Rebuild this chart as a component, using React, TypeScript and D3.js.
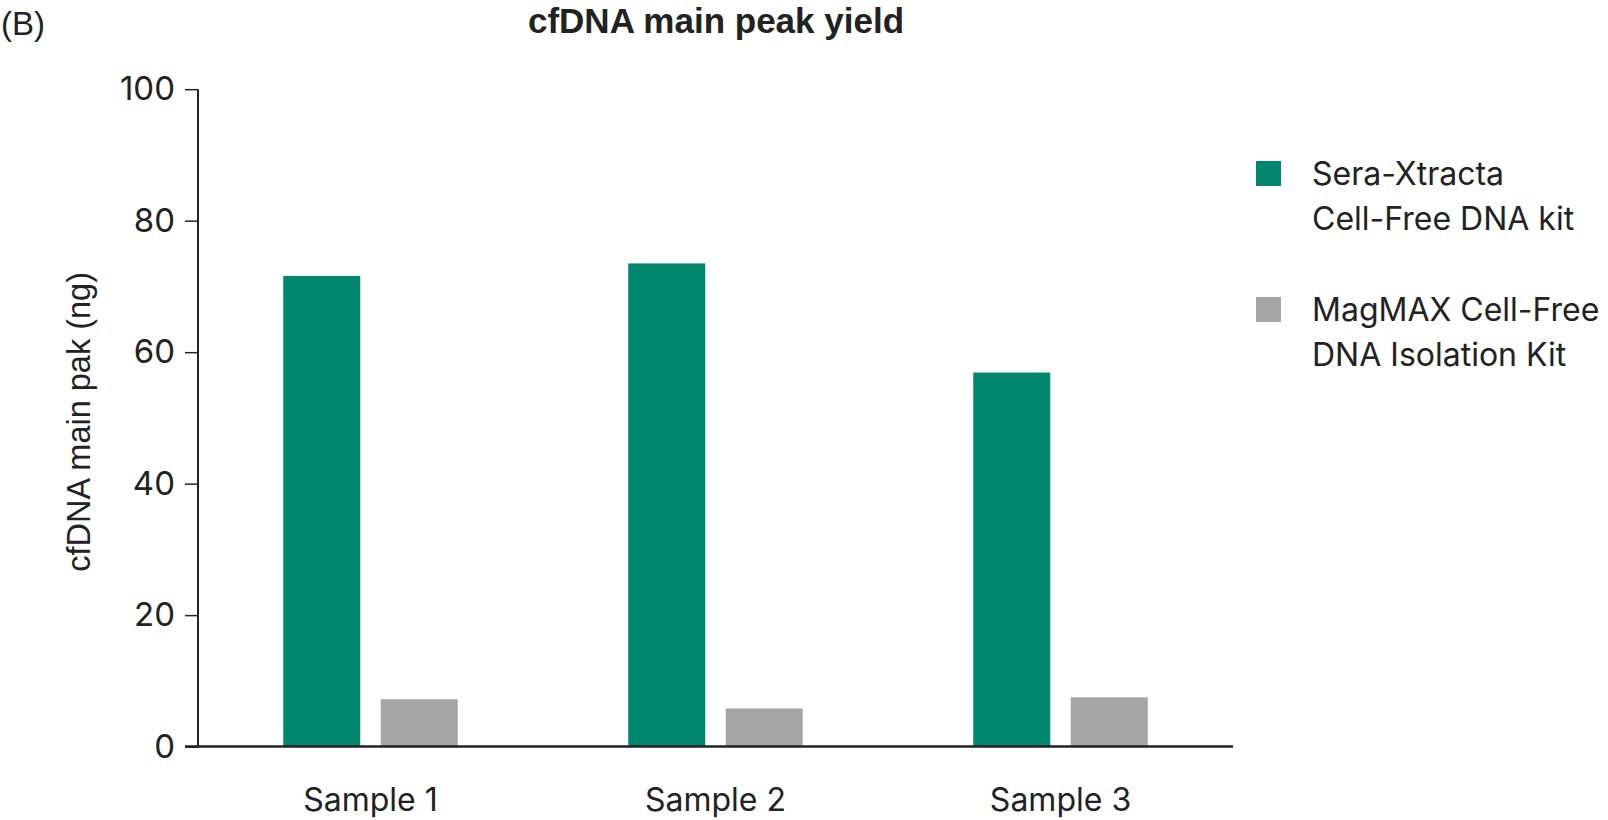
import React, { useEffect, useRef } from "react";
import * as d3 from "d3";

const samples = ["Sample 1", "Sample 2", "Sample 3"];
const kits = ["Sera-Xtracta Cell-Free DNA kit", "MagMAX Cell-Free DNA Isolation Kit"];
const seraValues = [71.6, 73.5, 56.9];
const magmaxValues = [7.2, 5.8, 7.5];
const yTicks = [0, 20, 40, 60, 80, 100];
const legendLines = [["Sera-Xtracta", "Cell-Free DNA kit"], ["MagMAX Cell-Free", "DNA Isolation Kit"]];
const colors = ["#00876D", "#A5A5A6"];

const W = 1608;
const H = 820;
const FONT = "Inter, 'Liberation Sans', Arial, sans-serif";
const ARIAL = "'Liberation Sans', Arial, sans-serif";

export default function App() {
  const ref = useRef<SVGSVGElement>(null);
  useEffect(() => {
    const svg = d3.select(ref.current);
    svg.selectAll("*").remove();
    const left = 198, right = 1233, top = 89.2, bottom = 746.6;
    const x = d3.scaleBand<string>().domain(samples).range([left, right]).padding(0);
    const step = x.step();
    const groupW = 174.5;
    const xs = d3.scaleBand<string>().domain(kits)
      .range([(step - groupW) / 2, (step + groupW) / 2]).paddingInner(0.21).paddingOuter(0);
    const y = d3.scaleLinear().domain([0, 100]).range([bottom, top]);

    svg.append("text").attr("x", 1).attr("y", 35).attr("font-family", ARIAL)
      .attr("font-size", 33).attr("fill", "#222").text("(B)");
    svg.append("text").attr("x", 716).attr("y", 33).attr("text-anchor", "middle")
      .attr("font-family", ARIAL)
      .attr("font-weight", "bold").attr("font-size", 35).attr("fill", "#222")
      .text("cfDNA main peak yield");

    const series = [seraValues, magmaxValues];
    series.forEach((vals, k) => {
      svg.append("g").selectAll("rect").data(samples).join("rect")
        .attr("x", (s) => (x(s) as number) + (xs(kits[k]) as number))
        .attr("width", xs.bandwidth())
        .attr("y", (s, i) => y(vals[i]))
        .attr("height", (s, i) => bottom - y(vals[i]))
        .attr("fill", colors[k]);
    });

    const yAxis = svg.append("g").attr("transform", `translate(${left},0)`)
      .call(d3.axisLeft(y).tickValues(yTicks).tickSize(13).tickPadding(10).tickFormat(d3.format("d")));
    yAxis.select(".domain").attr("stroke", "#222").attr("stroke-width", 2).attr("d", `M0,${top}V${bottom}`);
    yAxis.selectAll(".tick line").attr("stroke", "#222").attr("stroke-width", 1.5);
    yAxis.selectAll(".tick text").attr("font-family", FONT).attr("font-size", 33).attr("fill", "#222");

    svg.append("line").attr("x1", left - 13).attr("x2", right).attr("y1", bottom).attr("y2", bottom)
      .attr("stroke", "#222").attr("stroke-width", 2.5);

    const xAxis = svg.append("g").attr("transform", `translate(0,${bottom})`)
      .call(d3.axisBottom(x).tickSize(0).tickPadding(42));
    xAxis.select(".domain").remove();
    xAxis.selectAll(".tick text").attr("font-family", FONT).attr("font-size", 32).attr("fill", "#222");

    svg.append("text").attr("transform", `translate(90,${(top + bottom) / 2 + 4}) rotate(-90)`)
      .attr("text-anchor", "middle").attr("font-family", ARIAL).attr("font-size", 32.5).attr("fill", "#222")
      .text("cfDNA main pak (ng)");

    const legY = [161, 297];
    legendLines.forEach((lines, k) => {
      svg.append("rect").attr("x", 1256).attr("y", legY[k]).attr("width", 25).attr("height", 25).attr("fill", colors[k]);
      lines.forEach((ln, j) => {
        svg.append("text").attr("x", 1312).attr("y", legY[k] + 24 + j * 45)
          .attr("font-family", FONT).attr("font-size", 32).attr("fill", "#222").text(ln);
      });
    });
  }, []);
  return (
    <svg ref={ref} width={W} height={H} style={{ position: "absolute", left: 0, top: 0, background: "#fff" }} />
  );
}
